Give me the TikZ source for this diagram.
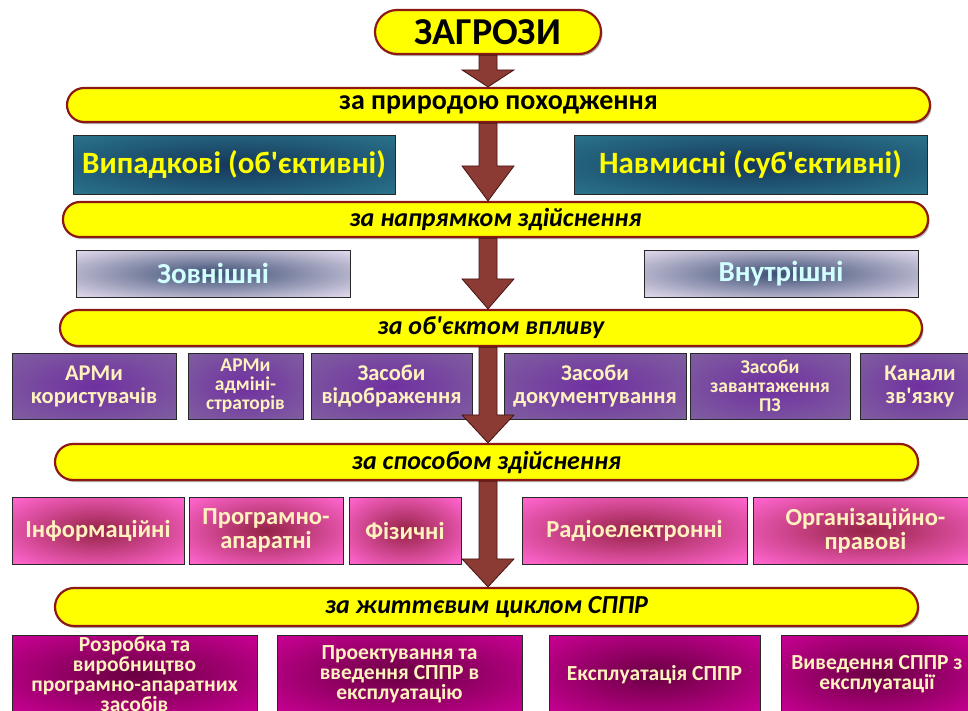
\documentclass[tikz,border=0pt]{standalone}
\usepackage{fontspec}
\newfontfamily\cf{Carlito}
\usetikzlibrary{calc,shadows}
\definecolor{pillyellow}{RGB}{255,255,0}
\definecolor{pillred}{RGB}{140,25,20}
\definecolor{arrowfill}{RGB}{140,58,52}
\definecolor{arrowline}{RGB}{70,20,18}
\definecolor{boxline}{RGB}{40,40,40}
\definecolor{tealout}{RGB}{46,130,150}
\definecolor{tealin}{RGB}{22,55,90}
\definecolor{lavout}{RGB}{222,214,234}
\definecolor{lavin}{RGB}{60,78,115}
\definecolor{lavtext}{RGB}{210,255,255}
\definecolor{purpout}{RGB}{128,98,160}
\definecolor{purpin}{RGB}{112,48,160}
\definecolor{pinkout}{RGB}{255,100,205}
\definecolor{pinkin}{RGB}{150,35,70}
\definecolor{magout}{RGB}{204,0,150}
\definecolor{magin}{RGB}{105,0,65}
\definecolor{creamtext}{RGB}{255,242,190}
\pgfdeclareradialshading{tealsh}{\pgfpointorigin}{color(0bp)=(tealin); color(44bp)=(tealout); color(80bp)=(tealout)}
\pgfdeclareradialshading{lavsh}{\pgfpointorigin}{color(0bp)=(lavin); color(34bp)=(lavout); color(80bp)=(lavout)}
\pgfdeclareradialshading{purpsh}{\pgfpointorigin}{color(0bp)=(purpin); color(38bp)=(purpout); color(80bp)=(purpout)}
\pgfdeclareradialshading{pinksh}{\pgfpointorigin}{color(0bp)=(pinkin); color(34bp)=(pinkout); color(80bp)=(pinkout)}
\pgfdeclareradialshading{magsh}{\pgfpointorigin}{color(0bp)=(magin); color(36bp)=(magout); color(80bp)=(magout)}
\tikzset{
  pill/.style={draw=pillred, line width=2.2pt, fill=pillyellow, rounded corners=#1, inner sep=0pt,
    drop shadow={shadow xshift=1.5pt, shadow yshift=-2pt, fill=black, opacity=0.3}},
  bartext/.style={font=\cf\bfseries\fontsize{28}{30}\selectfont},
  baritext/.style={font=\cf\bfseries\itshape\fontsize{26}{28}\selectfont},
  box/.style={draw=boxline, line width=1pt, inner sep=0pt, align=center, shade,
    drop shadow={shadow xshift=1.2pt, shadow yshift=-1.2pt, fill=black, opacity=0.45}},
  tealbox/.style={box, shading=tealsh, text=pillyellow, minimum height=59pt,
    font=\cf\bfseries\fontsize{31}{33}\selectfont},
  lavbox/.style={box, shading=lavsh, text=lavtext, minimum width=274pt, minimum height=47pt,
    font=\cf\bfseries\fontsize{29}{31}\selectfont},
  purpbox/.style={box, shading=purpsh, text=creamtext, minimum height=66pt,
    font=\cf\bfseries\fontsize{22.5}{23}\selectfont},
  purptight/.style={font=\cf\bfseries\fontsize{19.5}{19}\selectfont},
  pinkbox/.style={box, shading=pinksh, text=creamtext, minimum height=67pt,
    font=\cf\bfseries\fontsize{24.5}{24}\selectfont},
  magbox/.style={box, shading=magsh, text=creamtext, minimum height=79pt,
    font=\cf\bfseries\fontsize{21.5}{20}\selectfont},
  fatarrow/.style={fill=arrowfill, draw=arrowline, line width=0.8pt, line join=miter,
    to path={let \p1=(\tikztostart), \p2=(\tikztotarget) in
      (\x1-9pt,\y1) -- (\x1-9pt,\y2+#1) -- (\x1-26pt,\y2+#1) -- (\x1,\y2)
      -- (\x1+26pt,\y2+#1) -- (\x1+9pt,\y2+#1) -- (\x1+9pt,\y1) -- cycle}}
}
\begin{document}
\begin{tikzpicture}[x=1pt,y=-1pt]
\useasboundingbox (0,0) rectangle (968,710);
\fill[white] (0,0) rectangle (968,710);
\clip (0,0) rectangle (968,710);

% pills
\node[pill=22pt, minimum width=226pt, minimum height=44pt,
  font=\cf\bfseries\fontsize{38}{38}\selectfont] (zag) at (488,32) {ЗАГРОЗИ};
\node[pill=17pt, minimum width=863pt, minimum height=34pt, bartext] (bar1) at (498.5,105) {за природою походження};
\node[pill=17pt, minimum width=865pt, minimum height=35pt, baritext] (bar2) at (495.5,219.5) {за напрямком здійснення};
\node[pill=18pt, minimum width=862pt, minimum height=36pt, baritext] (bar3) at (491,328) {за об'єктом впливу};
\node[pill=18pt, minimum width=863pt, minimum height=36pt, baritext] (bar4) at (486.5,462) {за способом здійснення};
\node[pill=19pt, minimum width=863pt, minimum height=38pt, baritext] (bar5) at (486.5,607) {за життєвим циклом СППР};

% row 1
\node[tealbox, minimum width=322pt] (v1) at (234,164.5) {Випадкові (об'єктивні)};
\node[tealbox, minimum width=353pt] (v2) at (750.5,164.5) {Навмисні (суб'єктивні)};

% row 2
\node[lavbox] (z1) at (213,273.5) {Зовнішні};
\node[lavbox] (z2) at (781,273.5) {Внутрішні};

% row 3
\node[purpbox, minimum width=164pt] (p1) at (94,386) {АРМи\\користувачів};
\node[purpbox, purptight, minimum width=115pt] (p2) at (245.5,386) {АРМи\\адміні-\\страторів};
\node[purpbox, minimum width=161pt] (p3) at (391.5,386) {Засоби\\відображення};
\node[purpbox, minimum width=182pt] (p4) at (595,386) {Засоби\\документування};
\node[purpbox, purptight, minimum width=160pt] (p5) at (770,386) {Засоби\\завантаження\\ПЗ};
\node[purpbox, minimum width=120pt] (p6) at (920,386) {Канали\\зв'язку};

% row 4
\node[pinkbox, minimum width=172pt] (k1) at (98,530.5) {Інформаційні};
\node[pinkbox, minimum width=154pt] (k2) at (266,530.5) {Програмно-\\апаратні};
\node[pinkbox, minimum width=112pt] (k3) at (405,530.5) {Фізичні};
\node[pinkbox, minimum width=225pt] (k4) at (634.5,530.5) {Радіоелектронні};
\node[pinkbox, minimum width=225pt] (k5) at (865.5,530.5) {Організаційно-\\правові};

% row 5
\node[magbox, minimum width=245pt] (m1) at (134.5,674.5) {Розробка та\\виробництво\\програмно-апаратних\\засобів};
\node[magbox, minimum width=245pt] (m2) at (399.5,674.5) {Проектування та\\введення СППР в\\експлуатацію};
\node[magbox, minimum width=211pt] (m3) at (654.5,674.5) {Експлуатація СППР};
\node[magbox, minimum width=192pt] (m4) at (877,674.5) {\makebox[0pt][c]{Виведення СППР з}\\\makebox[0pt][c]{експлуатації}};

% arrows
\draw[fatarrow=17pt] (zag.south) to (bar1.north -| zag.south);
\draw[fatarrow=35pt] (bar1.south -| zag.south) to (bar2.north -| zag.south);
\draw[fatarrow=30pt] (bar2.south -| zag.south) to (bar3.north -| zag.south);
\draw[fatarrow=28pt] (bar3.south -| zag.south) to (bar4.north -| zag.south);
\draw[fatarrow=28pt] (bar4.south -| zag.south) to (bar5.north -| zag.south);
\end{tikzpicture}
\end{document}
